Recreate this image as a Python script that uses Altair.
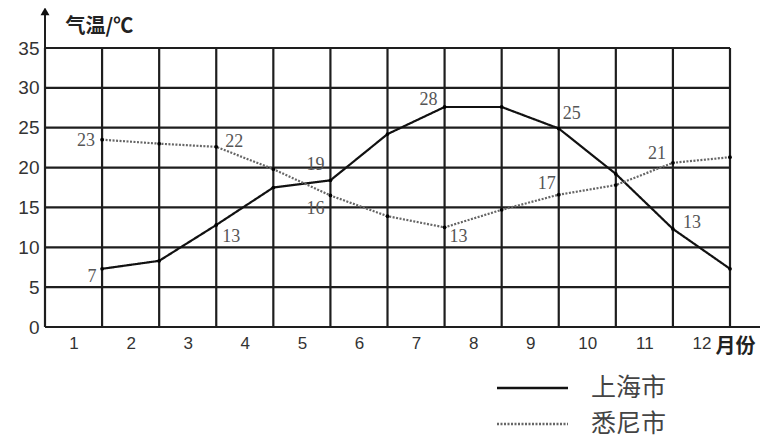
import altair as alt
import pandas as pd

months = list(range(1, 13))
shanghai = [7.3, 8.3, 12.8, 17.5, 18.4, 24.2, 27.6, 27.6, 24.9, 19.2, 12.3, 7.3]
sydney = [23.5, 23.0, 22.6, 19.8, 16.5, 13.9, 12.5, 14.7, 16.6, 17.8, 20.6, 21.3]
cities = ["上海市", "悉尼市"]
y_ticks = [0, 5, 10, 15, 20, 25, 30, 35]
x_label_pos = [m - 0.5 for m in months]
grid_x = list(range(0, 13))

# data labels
sh_label_months = [1, 3, 5, 7, 9, 11]
sh_label_text = ["7", "13", "19", "28", "25", "13"]
sy_label_months = [1, 3, 5, 7, 9, 11]
sy_label_text = ["23", "22", "16", "13", "17", "21"]

df = pd.DataFrame({
    "month": months * 2,
    "temp": shanghai + sydney,
    "城市": [cities[0]] * 12 + [cities[1]] * 12,
})

W, H = 685, 279
xs = alt.Scale(domain=[0, 12], nice=False, zero=False)
ys = alt.Scale(domain=[0, 35], nice=False)
GRID = "#1e1e1e"
COLORS = ["#111111", "#666666"]
DASHES = [[1, 0], [2, 1.5]]

XAX = alt.Axis(
    values=x_label_pos, labelExpr="datum.value + 0.5", grid=False, ticks=False,
    domain=False, labelPadding=8, labelFontSize=17, labelFont="Liberation Sans",
    labelColor="#333333", labelOverlap=False, title="月份", titleX=670, titleY=19,
    titleAlign="left", titleBaseline="middle", titleFontSize=20,
    titleFont="Noto Sans CJK SC", titleFontWeight="bold", titleColor="#222222")
YAX = alt.Axis(
    values=y_ticks, grid=False, ticks=False, domain=False, labelPadding=6,
    labelFontSize=19, labelFont="Liberation Sans", labelColor="#333333",
    labelOverlap=False, title="气温/℃", titleAngle=0, titleAlign="left", titleX=20,
    titleY=-16, titleBaseline="alphabetic", titleFontSize=20,
    titleFont="Noto Sans CJK SC", titleFontWeight="bold", titleColor="#222222")


def X(f):
    return alt.X(f, scale=xs, axis=XAX)


def Y(f):
    return alt.Y(f, scale=ys, axis=YAX)


base = alt.Chart(df)

grid_v = alt.Chart(pd.DataFrame({"g": grid_x})).mark_rule(color=GRID, strokeWidth=2.2).encode(
    x=X("g:Q"))

grid_h = alt.Chart(pd.DataFrame({"t": y_ticks})).mark_rule(color=GRID, strokeWidth=2.2).encode(
    y=Y("t:Q"))

lines = base.mark_line(strokeWidth=2.2).encode(
    x=X("month:Q"),
    y=Y("temp:Q"),
    color=alt.Color("城市:N", sort=cities, legend=None,
                    scale=alt.Scale(domain=cities, range=COLORS)),
    strokeDash=alt.StrokeDash("城市:N", sort=cities, legend=None,
                              scale=alt.Scale(domain=cities, range=DASHES)),
)

pts = base.mark_circle(size=14, color="#000000", opacity=1).encode(
    x=X("month:Q"),
    y=Y("temp:Q"),
)

# axis arrows
y_arrow = alt.Chart(pd.DataFrame({"x": [0], "y1": [35], "y2": [39.5]})).mark_rule(
    color=GRID, strokeWidth=2).encode(x=X("x:Q"), y=Y("y1:Q"), y2="y2:Q")
y_head = alt.Chart(pd.DataFrame({"x": [0], "y": [39.6]})).mark_point(
    shape="triangle-up", filled=True, size=80, color="#111111", opacity=1).encode(
    x=X("x:Q"), y=Y("y:Q"))
x_arrow = alt.Chart(pd.DataFrame({"x1": [12], "x2": [12.65], "y": [0]})).mark_rule(
    color=GRID, strokeWidth=2).encode(x=X("x1:Q"), x2="x2:Q", y=Y("y:Q"))
x_head = alt.Chart(pd.DataFrame({"x": [12.66], "y": [0]})).mark_point(
    shape="triangle-right", filled=True, size=80, color="#111111", opacity=1).encode(
    x=X("x:Q"), y=Y("y:Q"))

# data labels
sh_offsets = [(-10, 8), (15, 12), (-15, -15), (-16, -7), (13, -15), (19, -6)]
sy_offsets = [(-16, 1), (18, -5), (-15, 14), (14, 10), (-12, -11), (-16, -9)]
label_layers = []
for series, lm, lt, offs in [(shanghai, sh_label_months, sh_label_text, sh_offsets),
                             (sydney, sy_label_months, sy_label_text, sy_offsets)]:
    for m, t, (dx, dy) in zip(lm, lt, offs):
        d = pd.DataFrame({"month": [m], "temp": [series[m - 1]], "txt": [t]})
        label_layers.append(
            alt.Chart(d).mark_text(dx=dx, dy=dy, fontSize=18, font="Liberation Serif",
                                   color="#555555", baseline="middle", align="center").encode(
                x=X("month:Q"), y=Y("temp:Q"), text="txt:N"))

# manual legend (below the plot)
legend_layers = []
for i, c in enumerate(cities):
    ly = 340 + i * 36
    legend_layers.append(
        alt.Chart(pd.DataFrame({"c": [c]})).mark_rule(
            color=COLORS[i], strokeWidth=2.4, strokeDash=DASHES[i]).encode(
            x=alt.value(452), x2=alt.value(523), y=alt.value(ly)))
    legend_layers.append(
        alt.Chart(pd.DataFrame({"c": [c]})).mark_text(
            align="left", baseline="middle", fontSize=25, font="Noto Sans CJK SC",
            color="#444444").encode(
            x=alt.value(546), y=alt.value(ly), text="c:N"))

chart = alt.layer(grid_v, grid_h, lines, pts, y_arrow, y_head, x_arrow, x_head,
                  *label_layers, *legend_layers).properties(
    width=W, height=H,
    autosize=alt.AutoSizeParams(type="none"),
    padding={"left": 37, "top": 40, "right": 30, "bottom": 114},
).configure_view(stroke=None)

chart.save("out.html", embed_options={"renderer": "svg", "actions": False})
